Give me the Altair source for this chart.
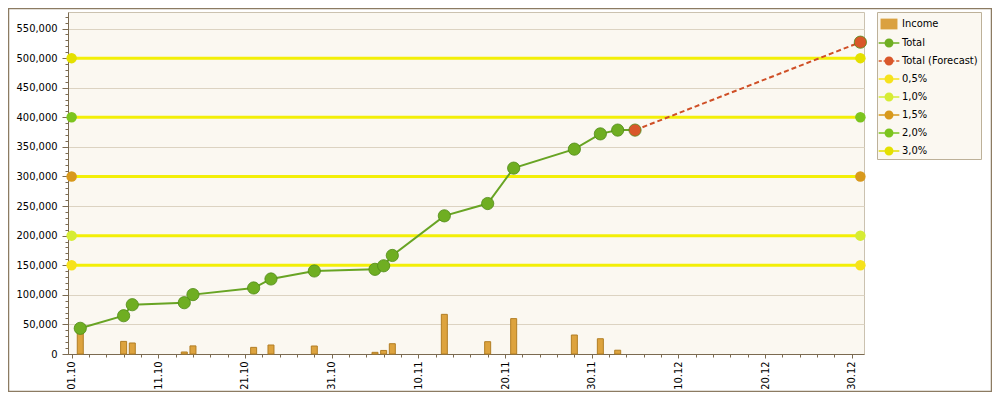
import altair as alt
import pandas as pd

YEAR = 2011

# ---- data ----
income_dates = ["02.10", "07.10", "08.10", "14.10", "15.10", "22.10", "24.10", "29.10",
                "05.11", "06.11", "07.11", "13.11", "18.11", "21.11", "28.11", "01.12", "03.12"]
income = [43400, 21300, 18600, 3400, 13700, 11200, 15200, 13500,
          2800, 6000, 17400, 67000, 20800, 59800, 32100, 25800, 6400]

total_dates = ["02.10", "07.10", "08.10", "14.10", "15.10", "22.10", "24.10", "29.10",
               "05.11", "06.11", "07.11", "13.11", "18.11", "21.11", "28.11", "01.12", "03.12", "05.12"]
total = [43400, 64700, 83300, 86700, 100400, 111600, 126800, 140300,
         143100, 149100, 166500, 233500, 254300, 314100, 346200, 372000, 378400, 378400]
total_marker_count = 17  # last Total vertex is hidden under the forecast start marker

forecast_dates = ["05.12", "31.12"]
forecast = [378400, 527000]

threshold_names = ["0,5%", "1,0%", "1,5%", "2,0%", "3,0%"]
threshold_values = [150000, 200000, 300000, 400000, 500000]
threshold_colors = ["#F6E21C", "#D6EC34", "#D8991C", "#7CC41E", "#E4E000"]
threshold_span = ["01.10", "31.12"]

x_tick_labels = ["01.10", "11.10", "21.10", "31.10", "10.11", "20.11", "30.11", "10.12", "20.12", "30.12"]
y_ticks = [0, 50000, 100000, 150000, 200000, 250000, 300000, 350000, 400000, 450000, 500000, 550000]

series_names = ["Income", "Total", "Total (Forecast)"] + threshold_names
series_colors = ["#DAA140", "#6FAE22", "#D9572A"] + threshold_colors


def iso(d):
    dd, mm = d.split(".")
    return f"{YEAR}-{mm}-{dd}T00:00:00"


def dt(d, hours=0):
    dd, mm = d.split(".")
    return alt.DateTime(year=YEAR, month=int(mm), date=int(dd), hours=hours)


income_df = pd.DataFrame({"date": [iso(d) for d in income_dates], "income": income})
total_df = pd.DataFrame({"date": [iso(d) for d in total_dates], "value": total})
forecast_df = pd.DataFrame({"date": [iso(d) for d in forecast_dates], "value": forecast})
thr_df = pd.DataFrame({
    "series": threshold_names,
    "value": threshold_values,
    "x1": [iso(threshold_span[0])] * len(threshold_names),
    "x2": [iso(threshold_span[1])] * len(threshold_names),
})

pts_rows = []
for n, v in zip(threshold_names, threshold_values):
    for d in threshold_span:
        pts_rows.append({"series": n, "date": iso(d), "value": v})
thr_pts_df = pd.DataFrame(pts_rows)
total_pts_df = pd.DataFrame({"series": "Total",
                             "date": [iso(d) for d in total_dates[:total_marker_count]],
                             "value": total[:total_marker_count]})
fc_pts_df = pd.DataFrame({"series": "Total (Forecast)",
                          "date": [iso(d) for d in forecast_dates], "value": forecast})
legend_df = pd.concat([thr_pts_df, total_pts_df, fc_pts_df], ignore_index=True)

# ---- scales / axes ----
x_domain = [alt.DateTime(year=YEAR, month=9, date=30, hours=14),
            alt.DateTime(year=YEAR, month=12, date=31, hours=10)]
x_scale = alt.Scale(domain=x_domain, padding=0, nice=False)
y_scale = alt.Scale(domain=[0, 578000], nice=False, padding=0, zero=True)

minor_x = [alt.DateTime(year=t.year, month=t.month, date=t.day)
           for t in pd.date_range(f"{YEAR}-10-01", f"{YEAR}-12-31", freq="2D")]
minor_y = list(range(0, 578000, 10000))

AX = "#7B6A50"
FONT = "'DejaVu Sans Condensed', 'DejaVu Sans'"
FS = 11

x_major_axis = alt.Axis(values=[dt(d) for d in x_tick_labels], format="%d.%m", labelAngle=-90,
                        orient="bottom", grid=False, tickSize=4, tickColor=AX, domainColor=AX,
                        labelFont=FONT, labelFontSize=FS, labelColor="#000000", labelPadding=3,
                        title=None, labelOverlap=False, labelFlush=False)
x_minor_axis = alt.Axis(values=minor_x, labels=False, orient="bottom", grid=False, tickSize=3,
                        tickColor=AX, domain=False, title=None)
y_major_axis = alt.Axis(values=y_ticks, labelExpr="format(datum.value, ',')", orient="left",
                        grid=True, gridColor="#DCD3C2",
                        tickSize=6, tickColor=AX, domainColor=AX, labelFont=FONT, labelFontSize=FS,
                        labelColor="#000000", labelPadding=5, title=None, labelFlush=False)
y_minor_axis = alt.Axis(values=minor_y, labels=False, orient="left", grid=False, tickSize=3,
                        tickColor=AX, domain=False, title=None)

# legend symbols
sq = "M-0.94,-0.6H0.94V0.6H-0.94Z"
circ = "M-0.5,0A0.5,0.5 0 1,1 0.5,0A0.5,0.5 0 1,1 -0.5,0Z"
line_circ = "M-1.15,-0.09H1.15V0.09H-1.15Z " + circ
dash_circ = ("M-1.15,-0.08H-0.8V0.08H-1.15Z M-0.6,-0.08H-0.3V0.08H-0.6Z "
             "M0.3,-0.08H0.6V0.08H0.3Z M0.8,-0.08H1.15V0.08H0.8Z " + circ)
series_shapes = [sq, line_circ, dash_circ] + [line_circ] * len(threshold_names)

color_scale = alt.Scale(domain=series_names, range=series_colors)
shape_scale = alt.Scale(domain=series_names, range=series_shapes)

legend = alt.Legend(title=None, orient="none", legendX=809, legendY=0, padding=3,
                    symbolSize=324, symbolOpacity=1, symbolStrokeWidth=0,
                    labelFont=FONT, labelFontSize=FS, labelColor="#000000", labelOffset=4,
                    rowPadding=4, fillColor="#FBF8F1", strokeColor="#BDB199",
                    labelLimit=200)

# ---- layers ----
legend_layer = alt.Chart(legend_df).mark_point(filled=True, opacity=0).encode(
    x=alt.X("date:T", scale=x_scale, axis=None),
    y=alt.Y("value:Q", scale=y_scale, axis=None),
    color=alt.Color("series:N", scale=color_scale, legend=legend),
    shape=alt.Shape("series:N", scale=shape_scale, legend=legend),
)

rules = alt.Chart(thr_df).mark_rule(color="#F3EF08", strokeWidth=3).encode(
    x=alt.X("x1:T", scale=x_scale, axis=None),
    x2="x2:T",
    y=alt.Y("value:Q", scale=y_scale, axis=None),
)

bars = alt.Chart(income_df).mark_bar(size=6, color="#DDA33E", stroke="#B27E24", strokeWidth=1).encode(
    x=alt.X("date:T", scale=x_scale, axis=x_major_axis),
    y=alt.Y("income:Q", scale=y_scale, axis=y_major_axis),
)

minor = alt.Chart(income_df).mark_bar(size=6, opacity=0).encode(
    x=alt.X("date:T", scale=x_scale, axis=x_minor_axis),
    y=alt.Y("income:Q", scale=y_scale, axis=y_minor_axis),
)

total_line = alt.Chart(total_df).mark_line(color="#68A424", strokeWidth=2).encode(
    x=alt.X("date:T", scale=x_scale, axis=None),
    y=alt.Y("value:Q", scale=y_scale, axis=None),
)

fc_line = alt.Chart(forecast_df).mark_line(color="#CF4F26", strokeWidth=2, strokeDash=[5, 3]).encode(
    x=alt.X("date:T", scale=x_scale, axis=None),
    y=alt.Y("value:Q", scale=y_scale, axis=None),
)

thr_pts = alt.Chart(thr_pts_df).mark_point(filled=True, size=110, opacity=1).encode(
    x=alt.X("date:T", scale=x_scale, axis=None),
    y=alt.Y("value:Q", scale=y_scale, axis=None),
    color=alt.Color("series:N", scale=color_scale, legend=None),
)

main_pts = alt.Chart(pd.concat([total_pts_df, fc_pts_df], ignore_index=True)).mark_point(
    filled=True, size=150, opacity=1, stroke="#4F8A16", strokeWidth=0.8).encode(
    x=alt.X("date:T", scale=x_scale, axis=None),
    y=alt.Y("value:Q", scale=y_scale, axis=None),
    color=alt.Color("series:N", scale=color_scale, legend=None),
)

frame = alt.Chart(pd.DataFrame({"k": [0]})).mark_rect(filled=False, stroke="#8C7B62", strokeWidth=1.5).encode(
    x=alt.value(-59.5), x2=alt.value(923.5), y=alt.value(-3.5), y2=alt.value(379.5)
)

chart = alt.layer(
    legend_layer, rules, bars, minor, total_line, fc_line, thr_pts, main_pts, frame
).resolve_axis(x="independent", y="independent").properties(
    width=796, height=342,
    padding={"left": 60, "top": 4, "right": 128, "bottom": 38},
    autosize=alt.AutoSizeParams(type="none"),
    background="#FFFFFF",
).configure_view(
    stroke="#CBC2B0",
    fill="#FBF8F1",
)

chart.save("out.html", embed_options={"renderer": "svg", "actions": False})
